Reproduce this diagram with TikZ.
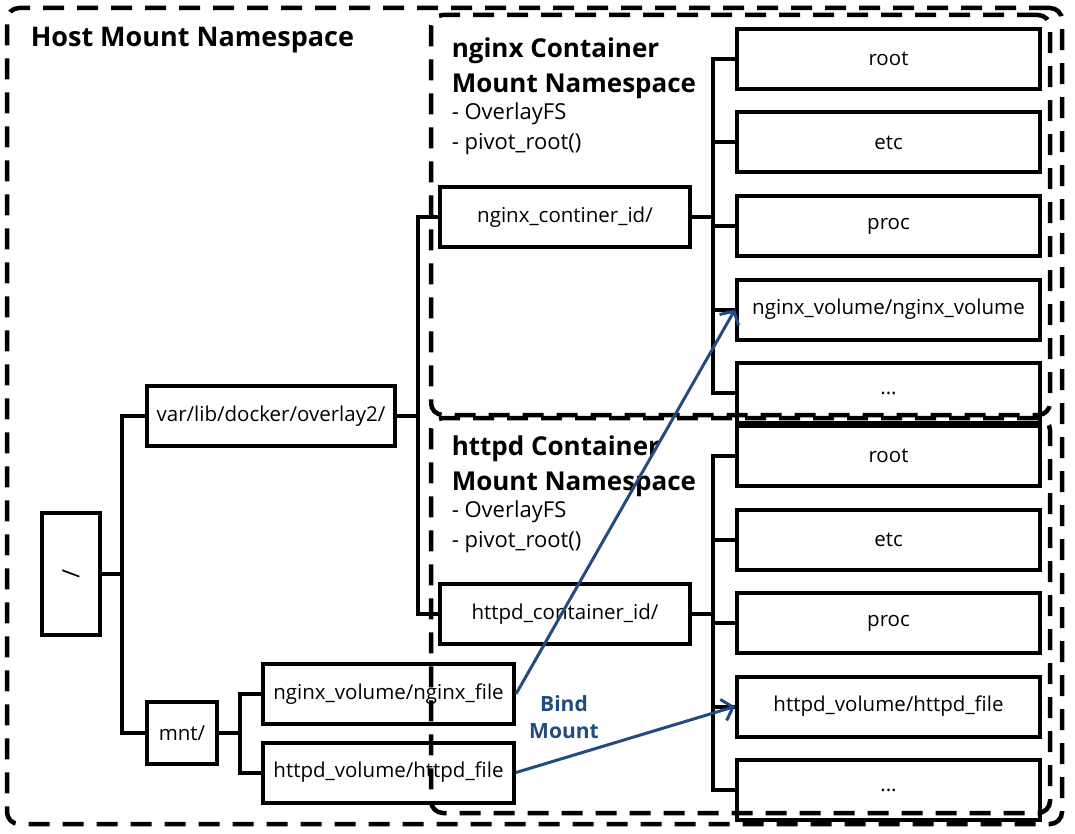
\documentclass[tikz,border=0pt]{standalone}
\usepackage{fontspec}
\setmainfont{Open Sans}
\usetikzlibrary{positioning, calc, arrows.meta}
\definecolor{bindblue}{RGB}{35,75,130}

\begin{document}
\begin{tikzpicture}[x=1pt, y=-1pt, line width=4pt, font=\fontsize{20.5}{22}\selectfont]
            % Define block styles
            \tikzstyle{block} = [rectangle, draw, inner sep=0pt, minimum height=60pt, text centered]
            \tikzstyle{dirblock} = [block, minimum width=303pt]
            \tikzstyle{nsbox} = [rectangle, draw, line width=4.5pt, dash pattern=on 21pt off 13pt, rounded corners=12pt, inner sep=0pt]
            \tikzstyle{nstitle} = [anchor=north west, align=left, inner sep=0pt, font=\fontsize{26}{34.5}\selectfont\bfseries]
            \tikzstyle{nsnote} = [anchor=north west, align=left, inner sep=0pt, font=\fontsize{22}{30}\selectfont]
            \tikzstyle{bind} = [draw=bindblue, line width=3pt, -{Straight Barb[length=10pt, width=22pt]}]

            \useasboundingbox (0,0) rectangle (1075,834);

            % Place namespace frames
            \node [nsbox, minimum width=1055pt, minimum height=816pt] (hostns) at (534.5,416) {};
            \node [nsbox, minimum width=619pt, minimum height=400pt] (nginxns) at (740.5,215) {};
            \node [nsbox, minimum width=619pt, minimum height=395pt] (httpdns) at (740.5,615.5) {};
            \node [nstitle, font=\fontsize{27}{34.5}\selectfont\bfseries] (hosttitle) at ($(hostns.north west)+(24,19)$) {Host Mount Namespace};
            \node [nstitle] (nginxtitle) at ($(nginxns.north west)+(21,23)$) {nginx Container\\Mount Namespace};
            \node [nstitle] (httpdtitle) at ($(httpdns.north west)+(21,18)$) {httpd Container\\Mount Namespace};
            \node [nsnote, below=1pt of nginxtitle.south west, anchor=north west] (nginxnote) {- OverlayFS\\- pivot\_root()};
            \node [nsnote, below=1pt of httpdtitle.south west, anchor=north west] (httpdnote) {- OverlayFS\\- pivot\_root()};

            % Place main nodes
            \node [block, minimum width=58pt, minimum height=122pt] (hostroot) at (71,574) {\rotatebox{-90}{\fontsize{24}{24}\selectfont /}};
            \node [block, minimum width=248pt] (overlay) at (271,416) {var/lib/docker/overlay2/};
            \node [block, minimum width=70pt, minimum height=62pt] (mnt) at (182,733) {mnt/};
            \node [block, minimum width=251pt] (nginxfile) at (388.5,694) {nginx\_volume/nginx\_file};
            \node [block, minimum width=251pt] (httpdfile) at (388.5,772.5) {httpd\_volume/httpd\_file};
            \node [block, minimum width=250pt] (nginxid) at (565,217) {nginx\_continer\_id/};
            \node [block, minimum width=250pt] (httpdid) at (565,614) {httpd\_container\_id/};

            % Place blocks inside nginx namespace
            \node [dirblock] (nroot) at (888.5,59) {root};
            \node [dirblock, below=19.5pt of nroot] (netc) {etc};
            \node [dirblock, below=19.5pt of netc] (nproc) {proc};
            \node [dirblock, below=19.5pt of nproc] (nvolume) {nginx\_volume/nginx\_volume};
            \node [dirblock, below=19.5pt of nvolume] (nmore) {...};

            % Place blocks inside httpd namespace
            \node [dirblock] (hroot) at (888.5,456) {root};
            \node [dirblock, below=19.5pt of hroot] (hetc) {etc};
            \node [dirblock, below=19.5pt of hetc] (hproc) {proc};
            \node [dirblock, below=19.5pt of hproc] (hvolume) {httpd\_volume/httpd\_file};
            \node [dirblock, below=19.5pt of hvolume] (hmore) {...};

            % Draw tree connections
            \draw (hostroot.east) -- ++(20,0) |- (overlay.west);
            \draw (hostroot.east) -- ++(20,0) |- (mnt.west);
            \draw (overlay.east) -- ++(21,0) |- (nginxid.west);
            \draw (overlay.east) -- ++(21,0) |- (httpdid.west);
            \draw (mnt.east) -- ++(21,0) |- (nginxfile.west);
            \draw (mnt.east) -- ++(21,0) |- (httpdfile.west);
            \foreach \dir in {nroot, netc, nproc, nvolume, nmore}
                \draw (nginxid.east) -- ++(21,0) |- (\dir.west);
            \foreach \dir in {hroot, hetc, hproc, hvolume, hmore}
                \draw (httpdid.east) -- ++(21,0) |- (\dir.west);

            % Draw bind mounts
            \draw [bind] (nginxfile.east) -- (nvolume.west);
            \draw [bind] (httpdfile.east) -- (hvolume.west);
            \node [text=bindblue, align=center, font=\fontsize{21}{27}\selectfont\bfseries] (bindlabel) at (564,717) {Bind\\Mount};

\end{tikzpicture}
\end{document}
